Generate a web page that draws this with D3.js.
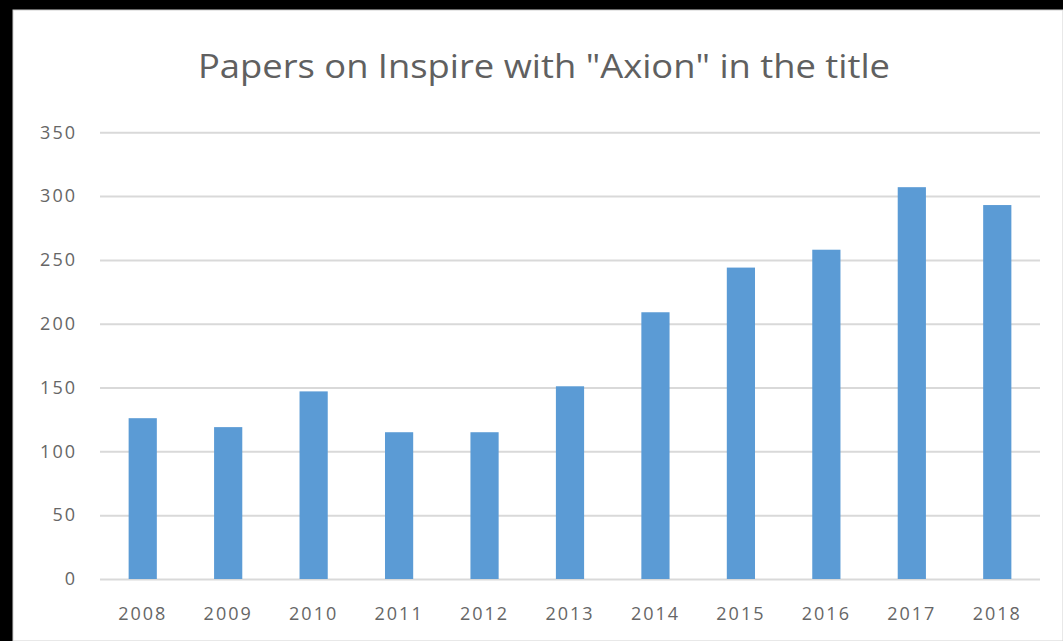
<!DOCTYPE html>
<html><head><meta charset="utf-8">
<script src="https://cdn.jsdelivr.net/npm/d3@7"></script>
<style>body{margin:0;background:#000;overflow:hidden}</style>
</head><body>
<svg id="c" width="1063" height="641"></svg>
<script>
const title = 'Papers on Inspire with "Axion" in the title';
const years = ["2008","2009","2010","2011","2012","2013","2014","2015","2016","2017","2018"];
const papers = [126,119,147,115,115,151,209,244,258,307,293];
const yTicks = [0,50,100,150,200,250,300,350];

const svg = d3.select("#c");
svg.append("rect").attr("x",13).attr("y",10).attr("width",1050).attr("height",631)
  .attr("fill","#fff").attr("stroke","#d0d0d0").attr("stroke-width",1);

const mLeft=100, mRight=1040, mTop=132.3, mBottom=579;
const x = d3.scaleBand().domain(years).range([mLeft,mRight]).paddingInner(0.67).paddingOuter(0.335);
const y = d3.scaleLinear().domain([0,350]).range([mBottom,mTop]);

const font = "'Open Sans', sans-serif";
svg.append("text").attr("x",544).attr("y",78).attr("text-anchor","middle")
  .attr("font-family",font).attr("font-size",32).attr("fill","#606060")
  .attr("textLength",692).attr("lengthAdjust","spacingAndGlyphs").text(title);

const ya = svg.append("g").attr("transform",`translate(${mLeft},0)`)
  .call(d3.axisLeft(y).tickValues(yTicks).tickSize(-(mRight-mLeft)).tickPadding(23));
ya.select(".domain").remove();
ya.selectAll(".tick line").attr("stroke","#d9d9d9").attr("stroke-width",2);
ya.selectAll(".tick text").attr("font-family",font).attr("font-size",18)
  .attr("letter-spacing",2).attr("fill","#666");

svg.append("g").selectAll("rect").data(years).join("rect")
  .attr("x",d=>x(d)).attr("width",x.bandwidth())
  .attr("y",(d,i)=>y(papers[i])).attr("height",(d,i)=>mBottom-y(papers[i]))
  .attr("fill","#5b9bd5");

const xa = svg.append("g").attr("transform",`translate(0,${mBottom})`)
  .call(d3.axisBottom(x).tickSize(0).tickPadding(28));
xa.select(".domain").remove();
xa.selectAll(".tick text").attr("font-family",font).attr("font-size",18)
  .attr("letter-spacing",2).attr("fill","#666");
</script>
</body></html>
